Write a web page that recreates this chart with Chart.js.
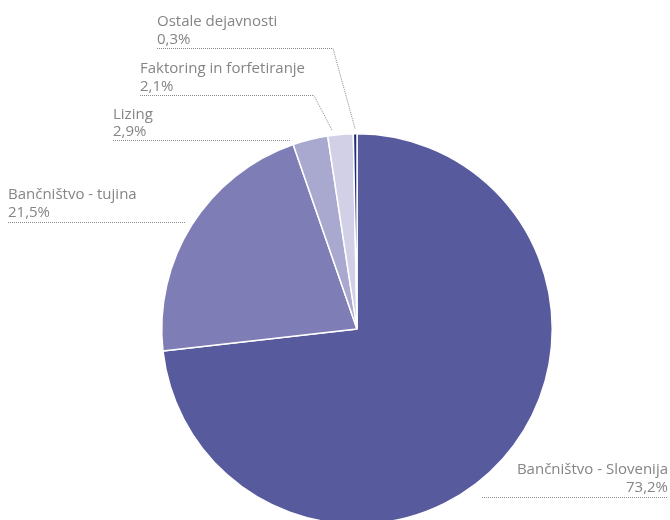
<!DOCTYPE html>
<html>
<head>
<meta charset="utf-8">
<script src="https://cdn.jsdelivr.net/npm/chart.js@4/dist/chart.umd.min.js"></script>
<style>
  html, body { margin: 0; padding: 0; background: #fff; overflow: hidden; }
  #wrap { width: 670px; height: 530px; }
</style>
</head>
<body>
<div id="wrap"><canvas id="pieChart" width="670" height="530"></canvas></div>
<script>
// podatki
const categories = ['Bančništvo - Slovenija', 'Bančništvo - tujina', 'Lizing', 'Faktoring in forfetiranje', 'Ostale dejavnosti'];
const shares = [73.2, 21.5, 2.9, 2.1, 0.3];
const sliceColors = ['#575a9c', '#7f7db5', '#a9a8cf', '#d1d0e6', '#1f2c7c'];

// postavitev oznak (besedilo + pikčasta črta)
const labelLayout = [
    { x: 668, align: 'right', y1: 470, y2: 488, line: [[482, 497], [668, 497]] },
    { x: 8, align: 'left', y1: 195, y2: 213, line: [[8, 222], [185, 222]] },
    { x: 113, align: 'left', y1: 115, y2: 132, line: [[113, 140], [290, 140]] },
    { x: 140, align: 'left', y1: 69, y2: 87, line: [[140, 95], [314, 95]], t: 0.2 },
    { x: 157, align: 'left', y1: 22, y2: 40, line: [[157, 48], [333, 48]], t: 0.5 }
];

function fmt(v) {
    return v.toFixed(1).replace('.', ',') + '%';
}

const labelPlugin = {
    id: 'pieLabels',
    afterDatasetsDraw(chart) {
        const ctx = chart.ctx;
        const arcs = chart.getDatasetMeta(0).data;
        ctx.save();
        ctx.font = '15px "Open Sans", sans-serif';
        ctx.fillStyle = '#858585';
        ctx.textBaseline = 'middle';
        labelLayout.forEach(function (lay, i) {
            ctx.textAlign = lay.align;
            ctx.fillText(categories[i], lay.x, lay.y1);
            ctx.fillText(fmt(shares[i]), lay.x, lay.y2);

            ctx.strokeStyle = '#8a8a8a';
            ctx.lineWidth = 1;
            ctx.setLineDash([1, 1]);
            ctx.beginPath();
            ctx.moveTo(lay.line[0][0], lay.line[0][1] + 0.5);
            ctx.lineTo(lay.line[1][0], lay.line[1][1] + 0.5);
            if (lay.t !== undefined) {
                const arc = arcs[i];
                const a = arc.startAngle + (arc.endAngle - arc.startAngle) * lay.t;
                const r = arc.outerRadius + 5;
                ctx.lineTo(arc.x + Math.cos(a) * r, arc.y + Math.sin(a) * r);
            }
            ctx.stroke();
        });
        ctx.restore();
    }
};

const ctx = document.getElementById('pieChart').getContext('2d');
new Chart(ctx, {
    type: 'pie',
    data: {
        labels: categories,
        datasets: [{
            data: shares,
            backgroundColor: sliceColors,
            borderColor: '#ffffff',
            borderWidth: 1.5
        }]
    },
    options: {
        responsive: false,
        animation: false,
        layout: { padding: { left: 161, right: 117, top: 133, bottom: 5 } },
        plugins: {
            legend: { display: false },
            tooltip: { enabled: false }
        }
    },
    plugins: [labelPlugin]
});
</script>
</body>
</html>
